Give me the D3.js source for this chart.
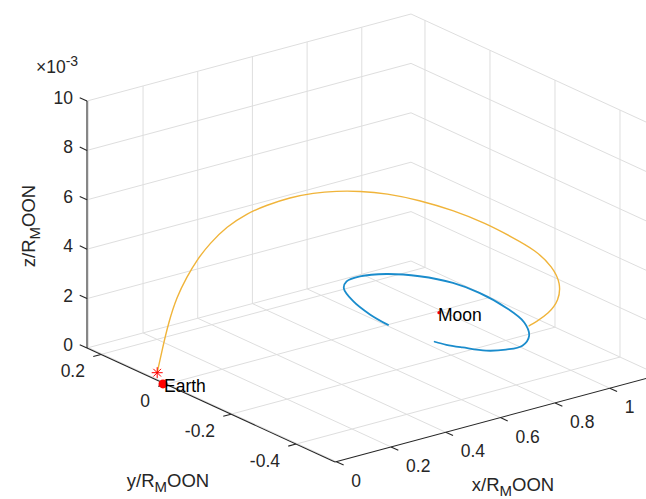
<!DOCTYPE html>
<html>
<head>
<meta charset="utf-8">
<script src="https://cdn.jsdelivr.net/npm/d3@7"></script>
<style>
  html, body { margin: 0; padding: 0; background: #ffffff; }
  svg { display: block; }
  text { font-family: "Liberation Sans", Arial, Helvetica, sans-serif; }
</style>
</head>
<body>
<svg id="chart" width="646" height="499"></svg>
<script>
// ---------- data ----------
const xDomain = [-0.005, 1.18];
const yDomain = [-0.52, 0.243];
const zDomain = [0, 0.01];

const xTicks = [0, 0.2, 0.4, 0.6, 0.8, 1];
const xTickLabels = ["0", "0.2", "0.4", "0.6", "0.8", "1"];
const yTicks = [-0.4, -0.2, 0, 0.2];
const yTickLabels = ["-0.4", "-0.2", "0", "0.2"];
const zTicks = [0, 0.002, 0.004, 0.006, 0.008, 0.010];
const zTickLabels = ["0", "2", "4", "6", "8", "10"];

// transfer trajectory (orange)
const transferX = [0.033, 0.032, 0.031, 0.030, 0.031, 0.034, 0.039, 0.049, 0.066, 0.085, 0.113, 0.145, 0.182,
                   0.223, 0.276, 0.351, 0.440, 0.547, 0.640, 0.737, 0.836, 0.918, 1.015, 1.076, 1.115, 1.127];
const transferY = [0.059, 0.043, 0.023, -0.004, -0.034, -0.062, -0.098, -0.141, -0.189, -0.234, -0.282, -0.327, -0.367,
                   -0.404, -0.442, -0.480, -0.508, -0.520, -0.520, -0.513, -0.482, -0.438, -0.351, -0.268, -0.195, -0.165];
const transferZ = [0, 0.00102, 0.00223, 0.00347, 0.00445, 0.00529, 0.00617, 0.00707, 0.00785, 0.00840, 0.00892, 0.00928, 0.00949,
                   0.00959, 0.00957, 0.00930, 0.00880, 0.00802, 0.00720, 0.00633, 0.00517, 0.00399, 0.00249, 0.00127, 0.00037, 0];

// lunar orbit (blue)
const orbitX = [0.806, 0.817, 0.845, 0.888, 0.929, 0.985, 1.058, 1.123, 1.167, 1.178, 1.165, 1.133, 1.077, 1.012, 0.954, 0.903, 0.865, 0.841, 0.829];
const orbitY = [-0.001, 0.064, 0.139, 0.204, 0.230, 0.236, 0.216, 0.169, 0.103, 0.031, -0.062, -0.145, -0.207, -0.241, -0.239, -0.221, -0.181, -0.151, -0.125];
const orbitZ = [0, 0, 0, 0, 0, 0, 0, 0, 0, 0, 0, 0, 0, 0, 0, 0, 0, 0, 0];

const earthPos = [-0.01, 0.005, 0];
const moonPos = [0.985, -0.007, 0];
const bodyNames = ["Earth", "Moon"];

// ---------- projection (orthographic, via d3 scales) ----------
const O = [335, 462];          // screen of (xmin, ymin, zmin)
const EX = [324, -87];         // full x range
const EY = [-248, -114];       // full y range
const EZ = [0, -247];          // full z range

const xs = d3.scaleLinear().domain(xDomain).range([0, 1]);
const ys = d3.scaleLinear().domain(yDomain).range([0, 1]);
const zs = d3.scaleLinear().domain(zDomain).range([0, 1]);

function P(x, y, z) {
  const a = xs(x), b = ys(y), c = zs(z);
  return [O[0] + a * EX[0] + b * EY[0] + c * EZ[0],
          O[1] + a * EX[1] + b * EY[1] + c * EZ[1]];
}
function unit(v) { const l = Math.hypot(v[0], v[1]); return [v[0] / l, v[1] / l]; }

const [x0, x1] = xDomain, [y0, y1] = yDomain, [z0, z1] = zDomain;
const svg = d3.select("#chart");
const line = d3.line();

const gridColor = "#dedede";
const axisColor = "#262626";

// ---------- grid ----------
const grid = svg.append("g").attr("fill", "none").attr("stroke", gridColor).attr("stroke-width", 1);
const segs = [];
// back wall y = ymax
xTicks.forEach(t => segs.push([P(t, y1, z0), P(t, y1, z1)]));
zTicks.forEach(t => segs.push([P(x0, y1, t), P(x1, y1, t)]));
// back wall x = xmax
yTicks.forEach(t => segs.push([P(x1, t, z0), P(x1, t, z1)]));
zTicks.forEach(t => segs.push([P(x1, y0, t), P(x1, y1, t)]));
// floor z = 0
xTicks.forEach(t => segs.push([P(t, y0, z0), P(t, y1, z0)]));
yTicks.forEach(t => segs.push([P(x0, t, z0), P(x1, t, z0)]));
grid.selectAll("path").data(segs).join("path").attr("d", d => line(d));

// ---------- axes ----------
const ax = svg.append("g").attr("fill", "none").attr("stroke", axisColor).attr("stroke-width", 1.1);
ax.append("path").attr("d", line([P(x0, y1, z0), P(x0, y1, z1)]));   // z axis
ax.append("path").attr("d", line([P(x0, y0, z0), P(x0, y1, z0)]));   // y axis
ax.append("path").attr("d", line([P(x0, y0, z0), P(x1, y0, z0)]));   // x axis

const tickLen = 8;
const dirZ = unit(EY), dirY = unit([-EX[0], -EX[1]]), dirX = unit([-EY[0], -EY[1]]);

const labels = svg.append("g").attr("fill", axisColor).attr("font-size", 17.5);

zTicks.forEach((t, i) => {
  const b = P(x0, y1, t);
  ax.append("path").attr("d", line([b, [b[0] + dirZ[0] * tickLen, b[1] + dirZ[1] * tickLen]]));
  labels.append("text").attr("x", b[0] - 14).attr("y", b[1] - 3)
    .attr("text-anchor", "end").attr("dominant-baseline", "central").text(zTickLabels[i]);
});
yTicks.forEach((t, i) => {
  const b = P(x0, t, z0);
  ax.append("path").attr("d", line([b, [b[0] + dirY[0] * tickLen, b[1] + dirY[1] * tickLen]]));
  labels.append("text").attr("x", b[0] - 16).attr("y", b[1] + 17)
    .attr("text-anchor", "end").attr("dominant-baseline", "central").text(yTickLabels[i]);
});
xTicks.forEach((t, i) => {
  const b = P(t, y0, z0);
  ax.append("path").attr("d", line([b, [b[0] + dirX[0] * tickLen, b[1] + dirX[1] * tickLen]]));
  labels.append("text").attr("x", b[0] + 15).attr("y", b[1] + 19)
    .attr("text-anchor", "start").attr("dominant-baseline", "central").text(xTickLabels[i]);
});

// exponent label
const ex = labels.append("text").attr("x", 36).attr("y", 73);
ex.append("tspan").text("\u00d710");
ex.append("tspan").attr("dy", -7).attr("font-size", 14).text("-3");

// axis titles
function axisTitle(g, x, y, rot, letter) {
  const t = g.append("text").attr("x", x).attr("y", y).attr("text-anchor", "middle")
    .attr("font-size", 18.5).attr("fill", axisColor);
  if (rot) t.attr("transform", `rotate(${rot},${x},${y})`);
  t.append("tspan").text(letter + "/R");
  t.append("tspan").attr("dy", 5).attr("font-size", 15).text("M");
  t.append("tspan").attr("dy", -5).text("OON");
}
axisTitle(svg, 168, 487, 0, "y");
axisTitle(svg, 513, 491, 0, "x");
axisTitle(svg, 35, 226, -90, "z");

// ---------- curves ----------
const curve = d3.line().curve(d3.curveBasis);
const orbitPts = orbitX.map((x, i) => P(x, orbitY[i], orbitZ[i]));
svg.append("path").attr("d", d3.line().curve(d3.curveCatmullRom.alpha(0.5))(orbitPts)).attr("fill", "none")
  .attr("stroke", "#1a8ccc").attr("stroke-width", 1.8).attr("stroke-linecap", "round");

const transferPts = transferX.map((x, i) => P(x, transferY[i], transferZ[i]));
svg.append("path").attr("d", curve(transferPts)).attr("fill", "none")
  .attr("stroke", "#f0b43a").attr("stroke-width", 1.4).attr("stroke-linecap", "round");

// start marker (asterisk)
const s = transferPts[0];
const ast = svg.append("g").attr("stroke", "#ff0000").attr("stroke-width", 1).attr("fill", "none");
const r = 5.5;
ast.append("path").attr("d", line([[s[0] - r, s[1]], [s[0] + r, s[1]]]));
ast.append("path").attr("d", line([[s[0], s[1] - r], [s[0], s[1] + r]]));
ast.append("path").attr("d", line([[s[0] - r * 0.7, s[1] - r * 0.7], [s[0] + r * 0.7, s[1] + r * 0.7]]));
ast.append("path").attr("d", line([[s[0] - r * 0.7, s[1] + r * 0.7], [s[0] + r * 0.7, s[1] - r * 0.7]]));

// bodies
const e = P(...earthPos), m = P(...moonPos);
svg.append("circle").attr("cx", e[0]).attr("cy", e[1]).attr("r", 4.5).attr("fill", "#ff0000");
svg.append("circle").attr("cx", m[0]).attr("cy", m[1]).attr("r", 1.6).attr("fill", "#ff0000");
svg.append("text").attr("x", e[0] + 1).attr("y", e[1] + 2).attr("dominant-baseline", "central")
  .attr("font-size", 17.5).attr("fill", "#000").text(bodyNames[0]);
svg.append("text").attr("x", m[0] - 1).attr("y", m[1] + 2).attr("dominant-baseline", "central")
  .attr("font-size", 17.5).attr("fill", "#000").text(bodyNames[1]);
</script>
</body>
</html>
